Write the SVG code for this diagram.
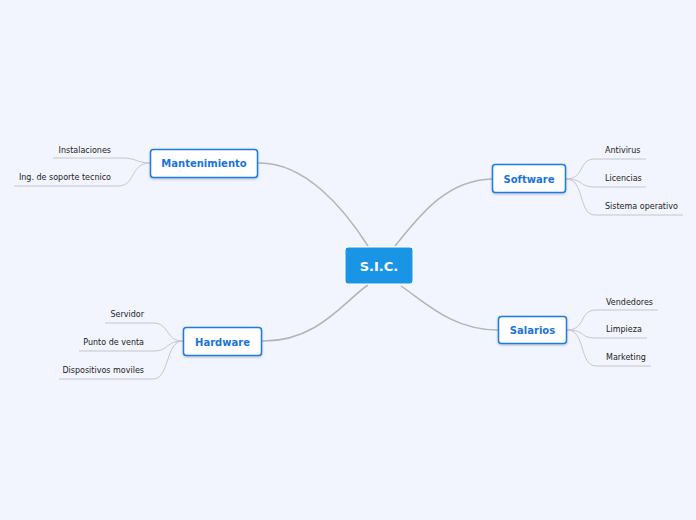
<svg xmlns="http://www.w3.org/2000/svg" width="696" height="520" viewBox="0 0 696 520">
<defs>
<filter id="sh" x="-20%" y="-30%" width="140%" height="160%">
<feDropShadow dx="0" dy="1" stdDeviation="1" flood-color="#000" flood-opacity="0.25"/>
</filter>
</defs>
<style>
.main{fill:none;stroke:#b3b3bb;stroke-width:1.5}
.sub{fill:none;stroke:#c6c6cc;stroke-width:1}
.node rect{fill:#fff;stroke:#1a7be0;stroke-width:1.5}
.node text{font-family:"DejaVu Sans",Verdana,sans-serif;font-weight:bold;font-size:10px;fill:#1a73d9;text-anchor:middle}
.leaf{font-family:"DejaVu Sans",Verdana,sans-serif;font-size:8px;fill:#222}
.r{text-anchor:end}
</style>
<rect width="696" height="520" fill="#f2f5fd"/>
<g id="connectors">
<path class="main" d="M257,163 C305,161 345,210 368,246"/>
<path class="main" d="M492,179 C445,180 418,218 395,246"/>
<path class="main" d="M262,341 C318,342 345,300 368,285"/>
<path class="main" d="M498,330 C452,330 425,302 401,286"/>
<path class="sub" d="M150,163 C137,163 136,158 123,158 L53,158"/>
<path class="sub" d="M150,163 C130,163 136,186 118,186 L14,186"/>
<path class="sub" d="M566,179 C585,179 578,159 595,159 L646,159"/>
<path class="sub" d="M566,179 C585,179 578,187 595,187 L646,187"/>
<path class="sub" d="M566,179 C585,179 578,215 595,215 L683,215"/>
<path class="sub" d="M567,330 C586,330 579,310 596,310 L658,310"/>
<path class="sub" d="M567,330 C586,330 579,338 596,338 L647,338"/>
<path class="sub" d="M567,330 C586,330 579,366 596,366 L651,366"/>
<path class="sub" d="M183,341 C165,341 170,323 153,323 L105,323"/>
<path class="sub" d="M183,341 C165,341 170,351 153,351 L79,351"/>
<path class="sub" d="M183,341 C165,341 170,379 153,379 L59,379"/>
</g>
<g id="center">
<rect x="345" y="247" width="68" height="37" rx="3" fill="#1a95e6" stroke="#fff" stroke-width="1"/>
<text x="379" y="270.5" font-family="DejaVu Sans,Verdana,sans-serif" font-weight="bold" font-size="13" fill="#fff" text-anchor="middle">S.I.C.</text>
</g>
<g id="mantenimiento" class="node">
<rect x="150.5" y="149.5" width="107" height="28" rx="3" filter="url(#sh)"/>
<text x="204" y="167">Mantenimiento</text>
</g>
<g id="software" class="node">
<rect x="492.5" y="164.5" width="73" height="28" rx="3" filter="url(#sh)"/>
<text x="529" y="182.5">Software</text>
</g>
<g id="hardware" class="node">
<rect x="183.5" y="327.5" width="78" height="28" rx="3" filter="url(#sh)"/>
<text x="222.5" y="345.5">Hardware</text>
</g>
<g id="salarios" class="node">
<rect x="498.5" y="316.5" width="68" height="27" rx="3" filter="url(#sh)"/>
<text x="532.5" y="334">Salarios</text>
</g>
<g id="instalaciones"><text class="leaf r" x="111" y="153">Instalaciones</text></g>
<g id="ing"><text class="leaf r" x="111" y="180">Ing. de soporte tecnico</text></g>
<g id="antivirus"><text class="leaf" x="605" y="153">Antivirus</text></g>
<g id="licencias"><text class="leaf" x="605" y="181">Licencias</text></g>
<g id="sistema"><text class="leaf" x="605" y="209">Sistema operativo</text></g>
<g id="vendedores"><text class="leaf" x="606" y="305">Vendedores</text></g>
<g id="limpieza"><text class="leaf" x="606" y="332">Limpieza</text></g>
<g id="marketing"><text class="leaf" x="606" y="360">Marketing</text></g>
<g id="servidor"><text class="leaf r" x="144" y="317">Servidor</text></g>
<g id="punto"><text class="leaf r" x="144" y="345">Punto de venta</text></g>
<g id="dispositivos"><text class="leaf r" x="144" y="373">Dispositivos moviles</text></g>
</svg>
